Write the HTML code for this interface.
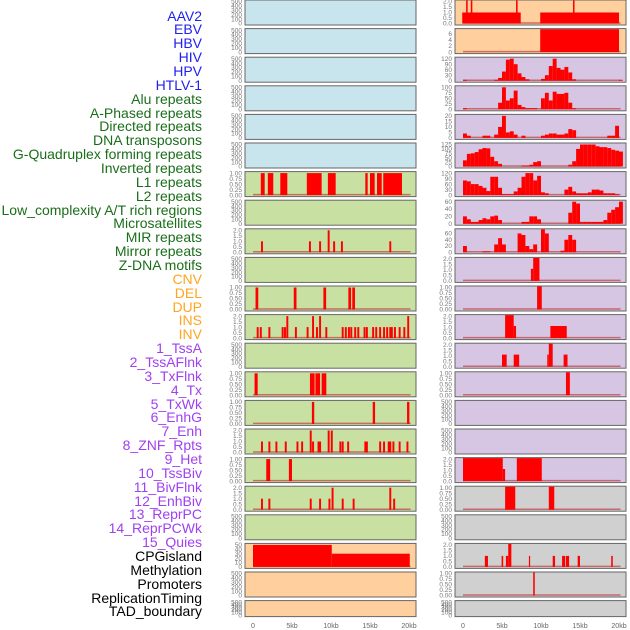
<!DOCTYPE html>
<html><head><meta charset="utf-8"><style>
html,body{margin:0;padding:0;background:#fff;}
#wrap{position:relative;width:630px;height:630px;overflow:hidden;font-family:"Liberation Sans",sans-serif;}
.lbl{position:absolute;right:428px;font-size:14px;line-height:14px;white-space:nowrap;}
</style></head><body>
<div id="wrap">
<svg id="chart" width="630" height="630" style="position:absolute;left:0;top:0"></svg>
</div>
<script>
// ---- labels ----
const trackLabels = ["AAV2","EBV","HBV","HIV","HPV","HTLV-1","Alu repeats","A-Phased repeats","Directed repeats","DNA transposons","G-Quadruplex forming repeats","Inverted repeats","L1 repeats","L2 repeats","Low_complexity A/T rich regions","Microsatellites","MIR repeats","Mirror repeats","Z-DNA motifs","CNV","DEL","DUP","INS","INV","1_TssA","2_TssAFlnk","3_TxFlnk","4_Tx","5_TxWk","6_EnhG","7_Enh","8_ZNF_Rpts","9_Het","10_TssBiv","11_BivFlnk","12_EnhBiv","13_ReprPC","14_ReprPCWk","15_Quies","CPGisland","Methylation","Promoters","ReplicationTiming","TAD_boundary"];
const labelGroups = [6,13,5,15,5];
const xTickLabels = ["0","5kb","10kb","15kb","20kb"];
const xTickValues = [0,5,10,15,20];

// ---- tick sets ----
const ticksEmpty = ["0","100","200","300","400","500"];
const ticksOne = ["0.00","0.25","0.50","0.75","1.00"];
const ticksTwo = ["0.0","0.5","1.0","1.5","2.0"];

// ---- left column data (intervals [startKb,endKb,value]) ----
const leftL1 = [[1.0,1.5,1],[1.9,2.6,1],[3.5,4.4,1],[6.9,8.8,1],[9.6,10.6,1],[14.4,14.7,1],[15.0,15.6,1],[15.9,16.5,1],[16.7,19.1,1]];
const leftR8Pos = [1.15,7.3,8.6,9.7,10.4,11.4,17.6];
const leftR8Val = [1,1,1,2,1,1,1];
const leftR10Pos = [0.5,5.4,9.2,12.4,12.9];
const leftR10Val = [1,1,1,1,1];
const leftR11Pos = [0.6,1.0,2.1,3.8,4.1,4.4,5.5,7.0,7.7,8.2,8.6,9.4,11.5,11.9,12.3,12.6,13.1,13.5,14.3,14.6,15.4,15.8,16.3,16.8,17.2,17.6,17.8,18.2,18.8,19.4,19.9];
const leftR11Val = [1,1,1,1,1,2,1,1,2,1,2,1,1,1,1,1,1,1,1,1,1,1,1,1,1,1,1,1,1,1,2];
const leftR13 = [[0.2,0.6,1],[7.3,7.9,1],[8.0,8.6,1],[8.8,9.4,1]];
const leftR14Pos = [7.7,15.5,19.9];
const leftR14Val = [1,1,1];
const leftR15Pos = [1.15,2.1,3.0,4.2,5.7,6.3,7.4,7.7,8.4,8.6,9.7,10.1,11.2,11.5,12.2,14.4,14.6,16.3,16.8,17.4,17.6,18.0,18.8,19.8];
const leftR15Val = [1,1,1,1,1,1,2,1,1,1,2,2,1,1,1,1,1,1,1,1,1,1,1,1];
const leftR16 = [[1.7,2.2,1],[4.6,5.0,1]];
const leftR17Pos = [1.15,2.1,7.4,8.6,9.8,10.2,11.5,12.9,17.6,18.1];
const leftR17Val = [1,1,1,1,1,2,1,1,2,1];
const leftCpG = [[0,10.1,50],[10.1,20.1,30]];

// ---- right column data ----
const rightAAV2 = [[-0.1,7.4,1],[9.9,20.0,1],[0.4,0.6,2.2],[1.0,1.2,2.2],[6.8,7.0,2.2],[14.1,14.3,2.2]];
const rightEBV = [[9.9,20.0,7.5]];
// binned profiles, 0.5kb per bin starting at 0kb
const rightHIV = [5,0,0,0,0,0,0,0,5,15,50,115,120,90,40,20,8,0,0,0,10,30,80,120,70,60,75,45,8,0,0,0,0,0,0,0,0,0,0,0,5];
const rightHPV = [5,0,0,0,0,0,0,0,0,30,100,40,50,85,20,10,5,5,5,0,50,75,40,80,70,70,75,30,5,0,0,0,0,0,0,0,0,0,0,0,0];
const rightR4 = [4,2,0,0,0,2,2,0,3,10,20,5,6,3,0,2,0,0,0,0,2,3,4,4,3,3,4,8,7,0,0,0,0,0,0,0,0,2,2,11,0];
const rightGQ = [35,72,75,82,98,105,103,55,30,15,0,0,0,0,0,5,5,10,25,30,0,0,0,0,0,0,0,10,30,100,125,125,125,125,115,110,110,105,95,90,85];
const rightR6 = [80,75,60,60,50,40,22,100,100,40,5,5,5,20,40,100,120,120,80,105,15,10,0,0,0,0,30,45,20,10,10,10,15,30,30,25,10,10,10,5,0];
const rightR7 = [20,12,5,5,10,15,12,20,22,10,0,0,0,0,0,5,5,20,20,12,0,0,0,0,0,0,0,30,60,55,5,5,5,5,5,5,10,30,38,45,60];
const rightR8 = [20,0,0,0,0,3,3,0,25,45,25,0,0,0,60,55,20,10,25,0,75,60,0,0,0,5,40,55,40,0,0,0,0,0,0,0,0,0,0,0,0];
const rightR9 = [[8.7,9.0,1.1],[9.0,9.8,2.1]];
const rightR10 = [[9.5,10.1,1.05]];
const rightR11 = [[5.4,6.5,2.1],[6.5,6.8,1.1],[11.2,13.3,1.1]];
const rightR12 = [[5.0,5.6,1.1],[6.5,7.2,1.1],[10.8,11.0,1.1],[11.0,11.5,2.1],[12.9,13.4,1.1]];
const rightR13 = [[13.2,13.7,1.05]];
const rightR16 = [[0,5.1,2.1],[5.1,5.4,1.1],[6.9,10.1,2.1]];
const rightR17 = [[5.4,6.7,1.05],[11.0,11.7,1.05]];
const rightR19 = [[2.8,3.2,1],[4.95,5.15,1],[5.5,5.8,1],[5.8,6.2,2.1],[8.45,8.6,1],[11.5,11.8,1],[12.7,13.1,1],[13.2,13.6,1],[14.7,15.0,1],[19.0,19.2,1]];
const rightR20 = [[9.0,9.2,1.05]];

const BLUE="#c8e4ec",GREEN="#c8e1a2",ORANGE="#ffd09e",PURPLE="#d6c6e3",GRAY="#d0d0d0";
const labelColors=["#2020f0","#1a6e1a","#ffa520","#a040f0","#000000"];

function spikes(pos,val,w){return pos.map((p,i)=>[p-w/2,p+w/2,val[i]]);}
function bins(arr){return arr.map((v,i)=>[i*0.5,i*0.5+0.5,v]).filter(d=>d[2]>0);}

const E={t:ticksEmpty,max:500,m:[],base:false};
function P(bg,t,max,m){return {bg,t,max,m,base:true};}
const leftSpec=[
 {bg:BLUE,...E},{bg:BLUE,...E},{bg:BLUE,...E},{bg:BLUE,...E},{bg:BLUE,...E},{bg:BLUE,...E},
 P(GREEN,ticksOne,1,leftL1),{bg:GREEN,...E},
 P(GREEN,ticksTwo,2,spikes(leftR8Pos,leftR8Val,0.25)),{bg:GREEN,...E},
 P(GREEN,ticksOne,1,spikes(leftR10Pos,leftR10Val,0.35)),
 P(GREEN,ticksTwo,2,spikes(leftR11Pos,leftR11Val,0.25)),{bg:GREEN,...E},
 P(GREEN,ticksOne,1,leftR13),P(GREEN,ticksOne,1,spikes(leftR14Pos,leftR14Val,0.3)),
 P(GREEN,ticksTwo,2,spikes(leftR15Pos,leftR15Val,0.25)),P(GREEN,ticksOne,1,leftR16),
 P(GREEN,ticksTwo,2,spikes(leftR17Pos,leftR17Val,0.25)),{bg:GREEN,...E},
 P(ORANGE,["0","10","20","30","40","50"],50,leftCpG),{bg:ORANGE,...E},{bg:ORANGE,...E}];
const rightSpec=[
 P(ORANGE,ticksTwo,2,rightAAV2),P(ORANGE,["0","2","4","6"],7.2,rightEBV),
 P(PURPLE,["0","30","60","90","120"],120,bins(rightHIV)),
 P(PURPLE,["0","25","50","75","100"],100,bins(rightHPV)),
 P(PURPLE,["0","5","10","15","20"],20,bins(rightR4)),
 P(PURPLE,["0","25","50","75","100","125"],125,bins(rightGQ)),
 P(PURPLE,["0","30","60","90","120"],120,bins(rightR6)),
 P(PURPLE,["0","20","40","60"],60,bins(rightR7)),
 P(PURPLE,["0","20","40","60"],70,bins(rightR8)),
 P(PURPLE,ticksTwo,2,rightR9),P(PURPLE,ticksOne,1,rightR10),
 P(PURPLE,ticksTwo,2,rightR11),P(PURPLE,ticksTwo,2,rightR12),
 P(PURPLE,ticksOne,1,rightR13),{bg:PURPLE,...E},{bg:PURPLE,...E},
 P(PURPLE,ticksTwo,2,rightR16),P(GRAY,ticksOne,1,rightR17),{bg:GRAY,...E},
 P(GRAY,ticksTwo,2,rightR19),P(GRAY,ticksOne,1,rightR20),{bg:GRAY,...E}];

const svg=document.getElementById('chart');
const NS="http://www.w3.org/2000/svg";
function mk(tag,attrs){const e=document.createElementNS(NS,tag);for(const k in attrs)e.setAttribute(k,attrs[k]);svg.appendChild(e);return e;}
const cols=[{x0:245,x1:416,z:253},{x0:455,x1:626,z:463}];
const PXKB=7.8;
function rowTop(i){return i*28.6;}
function rowH(i){return i===21?16:25;}

[leftSpec,rightSpec].forEach((spec,ci)=>{
  const c=cols[ci];
  const xs=kb=>c.z+kb*PXKB;
  spec.forEach((p,ri)=>{
    const top=rowTop(ri),h=rowH(ri);
    const y0=top+h-1.5,y1=top+1.5;
    const ys=v=>y0-(Math.min(v,p.max*1.05)/p.max)*(y0-y1);
    const bg=mk('rect',{x:c.x0,y:top,width:c.x1-c.x0,height:h,fill:p.bg,stroke:"#666",'stroke-width':1});
    
    
    p.t.forEach((t,k)=>{
      const v=p.max===500?k*100:(p.t.length>1?parseFloat(t):0);
      const tx=mk('text',{x:c.x0-3,y:ys(v)+2.2,'text-anchor':'end','font-size':6.5,fill:'#777','font-family':'Liberation Sans, sans-serif'});
      tx.textContent=t;
      
      
    });
    if(p.base){
      const bl=mk('line',{x1:xs(0),x2:xs(20.2),y1:y0-0.5,y2:y0-0.5,stroke:'#c04040','stroke-width':1.5,'stroke-opacity':0.7});
      
      
    }
    p.m.forEach(d=>{
      const yt=Math.max(ys(d[2]),top+0.5);
      const r=mk('rect',{x:xs(d[0]),y:yt,width:Math.max(1.2,xs(d[1])-xs(d[0])),height:y0-yt,fill:'#ff0000'});
      
      
    });
  });
  xTickValues.forEach((v,k)=>{
    const t=mk('text',{x:xs(v),y:628,'text-anchor':'middle','font-size':7,fill:'#666','font-family':'Liberation Sans, sans-serif'});
    t.textContent=xTickLabels[k];
    
    
  });
});

// labels
const wrap=document.getElementById('wrap');
let gi=0,cnt=0;
trackLabels.forEach((s,i)=>{
  if(cnt>=labelGroups[gi]){gi++;cnt=0;}
  cnt++;
  const d=document.createElement('div');
  d.className='lbl';
  d.textContent=s;
  d.style.top=(15+i*13.86-6.5)+'px';
  d.style.color=labelColors[gi];
  
  
  wrap.appendChild(d);
});
</script>
</body></html>
